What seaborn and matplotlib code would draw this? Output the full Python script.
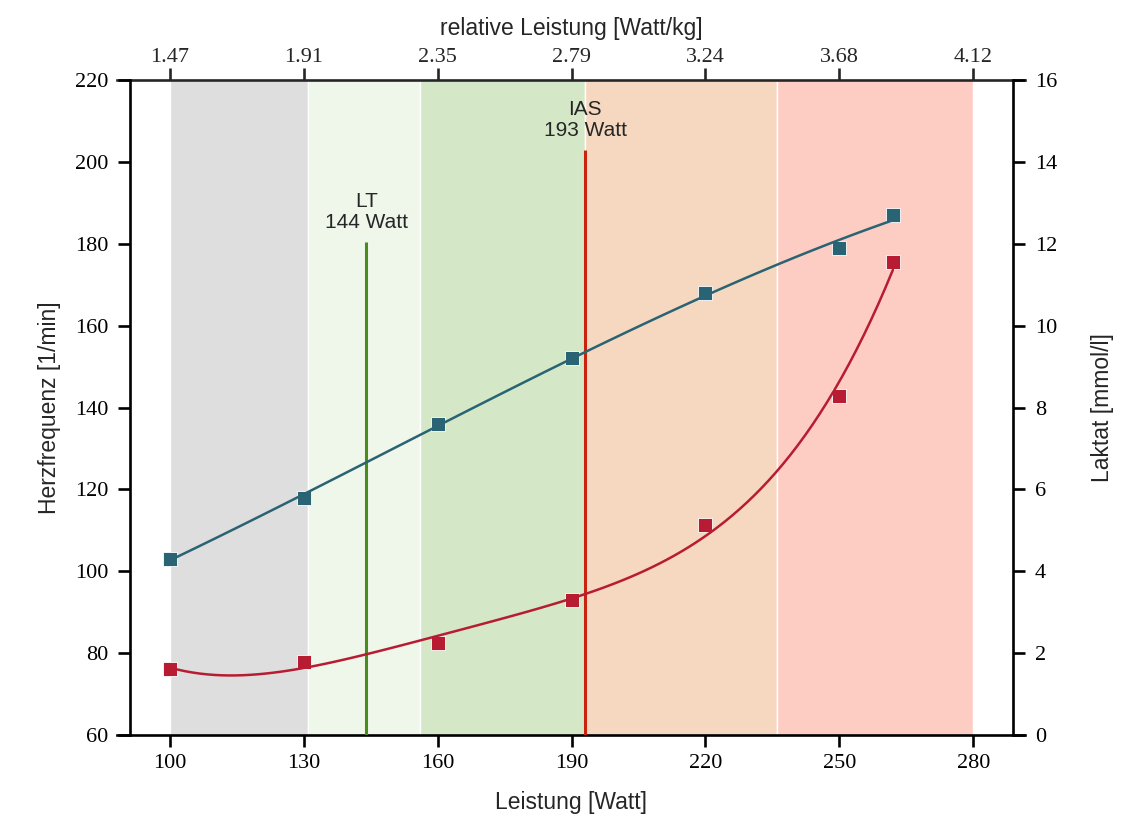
import matplotlib
matplotlib.use('Agg')
import matplotlib.pyplot as plt
import numpy as np
import pandas as pd
import seaborn as sns

# Messwerte Stufentest
leistung = [100, 130, 160, 190, 220, 250, 262]
herzfrequenz = [103, 118, 136, 152, 168, 179, 187]
laktat = [1.61, 1.78, 2.25, 3.30, 5.13, 8.28, 11.55]
gewicht = 68

# Trainingsbereiche (Watt)
zonen_grenzen = [100, 131, 156, 193, 236, 280]
zonen_farben = ['#dedede', '#eff6ea', '#d4e8c8', '#f6d8c0', '#fdcdc4']

# Schwellen
lt_watt, lt_hf = 144, 180.5
ias_watt, ias_hf = 193, 203

watt_ticks = [100, 130, 160, 190, 220, 250, 280]

df = pd.DataFrame({'leistung': leistung, 'hf': herzfrequenz, 'laktat': laktat})

sns.set_style('ticks')
plt.rcParams['font.family'] = ['Liberation Sans', 'DejaVu Sans']

c_hf = '#2a6373'
c_la = '#b81c32'
tick_fs = 16
label_fs = 16.5

fig = plt.figure(figsize=(11.4, 8.26), dpi=100)
ax = fig.add_axes([0.1026, 0.1102, 0.7965, 0.7929])
ax2 = ax.twinx()

for i in range(len(zonen_farben)):
    ax.axvspan(zonen_grenzen[i], zonen_grenzen[i + 1], color=zonen_farben[i],
               ec='white', lw=1, zorder=0)

ax.vlines(lt_watt, 60, lt_hf, color='#4a8c1c', lw=2.2, zorder=3)
ax.vlines(ias_watt, 60, ias_hf, color='#c8230f', lw=2.2, zorder=3)
ax.text(lt_watt, lt_hf + 2.3, f'LT\n{lt_watt} Watt', ha='center', va='bottom',
        fontsize=15, linespacing=1.15)
ax.text(ias_watt, ias_hf + 2.3, f'IAS\n{ias_watt} Watt', ha='center', va='bottom',
        fontsize=15, linespacing=1.15)

sns.regplot(data=df, x='leistung', y='hf', order=3, ci=None, ax=ax, marker='s',
            color=c_hf, scatter_kws={'s': 95, 'edgecolors': 'white', 'linewidths': 0.6,
                                     'alpha': 1, 'zorder': 4},
            line_kws={'lw': 1.8, 'zorder': 4})
sns.regplot(data=df, x='leistung', y='laktat', order=4, ci=None, ax=ax2, marker='s',
            color=c_la, scatter_kws={'s': 95, 'edgecolors': 'white', 'linewidths': 0.6,
                                     'alpha': 1, 'zorder': 4},
            line_kws={'lw': 1.8, 'zorder': 4})

ax.set_xlim(88.1, 291.6)
ax.set_ylim(60, 220)
ax2.set_ylim(0, 16)
ax.set_xticks(watt_ticks)
ax.set_yticks(range(60, 221, 20))
ax2.set_yticks(range(0, 17, 2))

ax.set_xlabel('Leistung [Watt]', fontsize=label_fs, labelpad=13)
ax.set_ylabel('Herzfrequenz [1/min]', fontsize=label_fs, labelpad=10)
ax2.set_ylabel('Laktat [mmol/l]', fontsize=label_fs, labelpad=24)

# Achsen / Spines
ax.spines['left'].set_position(('data', 91))
ax2.spines['right'].set_position(('data', 289))
ax.spines['right'].set_visible(False)
ax2.spines['left'].set_visible(False)
ax2.spines['top'].set_visible(False)
ax2.spines['bottom'].set_visible(False)
for a in (ax, ax2):
    for s in a.spines.values():
        s.set_linewidth(1.9)
        s.set_color('black')
    a.tick_params(direction='out', length=8.6, width=1.9, labelsize=tick_fs, colors='black')
    a.tick_params(axis='y', pad=7)
    a.tick_params(axis='x', pad=5)
    for lab in a.get_xticklabels() + a.get_yticklabels():
        lab.set_family('Liberation Serif')

top = ax.secondary_xaxis('top')
top.set_xticks(watt_ticks)
top.set_xticklabels([f'{w / gewicht:.2f}' for w in watt_ticks], family='Liberation Serif')
top.tick_params(direction='out', length=8.6, width=1.9, labelsize=tick_fs, pad=1)
top.spines['top'].set_linewidth(1.9)
top.set_xlabel('relative Leistung [Watt/kg]', fontsize=label_fs, labelpad=9)
ax.spines['top'].set_visible(False)

fig.savefig('out.png', dpi=100)
